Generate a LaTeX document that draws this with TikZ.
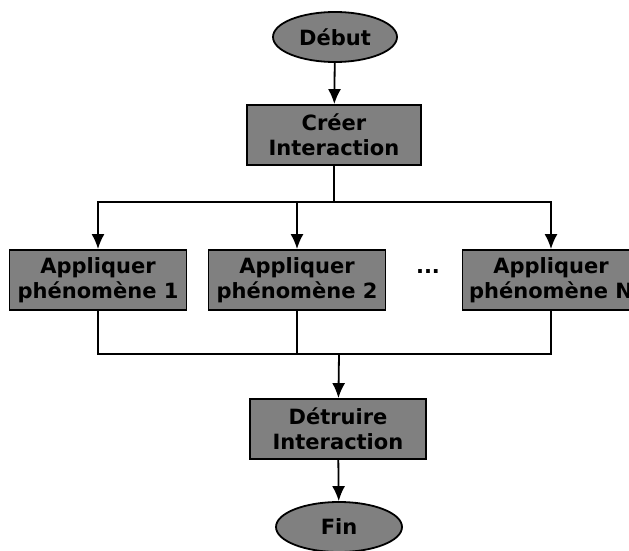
\documentclass[tikz,border=0pt]{standalone}
\usepackage{fontspec}
\setmainfont{DejaVu Sans}
\usepackage{tikz}
\usetikzlibrary{arrows.meta}
\usetikzlibrary{shapes.geometric}
\tikzstyle{etape}=[rectangle, draw=black, line width=1.8pt, fill=gray, minimum width=176pt, minimum height=60pt, inner sep=1pt, align=center, font=\fontsize{21}{25}\selectfont\bfseries]
\tikzstyle{borne}=[ellipse, draw=black, line width=1.8pt, fill=gray, minimum width=124pt, minimum height=50pt, inner sep=1pt, font=\fontsize{21}{25}\selectfont\bfseries]
\tikzstyle{fleche}=[line width=1.8pt, -{Latex[length=15pt, width=13pt]}]

\begin{document}
\begin{tikzpicture}[x=1pt, y=-1pt]
    \useasboundingbox (0,0) rectangle (629,551);

    \node[borne] (1) at (335,37) {Début};
    \node[etape, minimum width=174pt] (2) at (334,135) {Créer\\Interaction};

    \node[etape, minimum width=177pt] (31) at (98,280) {Appliquer\\phénomène 1};
    \node[etape, minimum width=177pt] (32) at (297,280) {Appliquer\\phénomène 2};
    \node[font=\fontsize{21}{25}\selectfont\bfseries] (dots) at (428,272) {...};
    \node[etape, minimum width=177pt] (33) at (551,280) {Appliquer\\phénomène N};

    \node[etape] (4) at (338,429) {Détruire\\Interaction};
    \node[borne, minimum width=126pt] (5) at (339,527) {Fin};

    \coordinate (split) at (334,202);
    \coordinate (join) at (339,354);

    \draw[fleche] (1) -- (2);
    \draw[line width=1.8pt] (2) -- (split);
    \foreach \to in {31, 32, 33}
      \draw[fleche] (split) -| (\to);
    \foreach \from in {31, 32, 33}
      \draw[line width=1.8pt] (\from) |- (join);
    \draw[fleche] (join) -- (4);
    \draw[fleche] (4) -- (5);
  \end{tikzpicture}
\end{document}
